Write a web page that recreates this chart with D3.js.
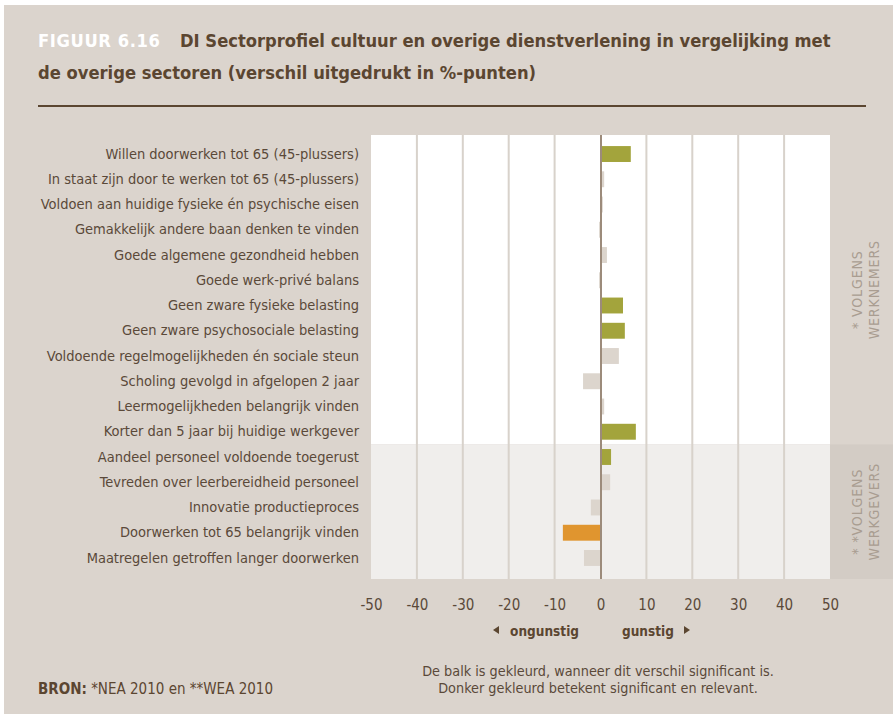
<!DOCTYPE html>
<html><head><meta charset="utf-8">
<script src="https://cdn.jsdelivr.net/npm/d3@7"></script>
<style>body{margin:0;background:#fff}svg{display:block}</style>
</head><body>
<svg id="chart" width="893" height="714"></svg>
<script>
const categories = [
  "Willen doorwerken tot 65 (45-plussers)",
  "In staat zijn door te werken tot 65 (45-plussers)",
  "Voldoen aan huidige fysieke én psychische eisen",
  "Gemakkelijk andere baan denken te vinden",
  "Goede algemene gezondheid hebben",
  "Goede werk-privé balans",
  "Geen zware fysieke belasting",
  "Geen zware psychosociale belasting",
  "Voldoende regelmogelijkheden én sociale steun",
  "Scholing gevolgd in afgelopen 2 jaar",
  "Leermogelijkheden belangrijk vinden",
  "Korter dan 5 jaar bij huidige werkgever",
  "Aandeel personeel voldoende toegerust",
  "Tevreden over leerbereidheid personeel",
  "Innovatie productieproces",
  "Doorwerken tot 65 belangrijk vinden",
  "Maatregelen getroffen langer doorwerken"
];
const values = [6.6, 0.8, 0.5, -0.3, 1.4, -0.3, 4.9, 5.3, 4.0, -3.8, 0.8, 7.7, 2.3, 2.1, -2.1, -8.2, -3.6];
const significant = [true, false, false, false, false, false, true, true, false, false, false, true, true, false, false, true, false];
const groups = ["werknemers","werknemers","werknemers","werknemers","werknemers","werknemers","werknemers","werknemers","werknemers","werknemers","werknemers","werknemers","werkgevers","werkgevers","werkgevers","werkgevers","werkgevers"];
const groupLabels = [["* VOLGENS", "WERKNEMERS"], ["* *VOLGENS", "WERKGEVERS"]];
const xTicks = [-50, -40, -30, -20, -10, 0, 10, 20, 30, 40, 50];

const C = {
  bg: "#dbd4cd", brown: "#5b4631", text: "#5a4939", white: "#ffffff",
  plotTop: "#ffffff", plotBottom: "#f0eeec", bandBottom: "#d3ccc5",
  grid: "#d8d2cb", zero: "#9c8b7b", green: "#a3a43c", orange: "#e0952f",
  light: "#dcd5cd", side: "#a99d91"
};
const FONT = "'Liberation Sans Narrow','Arial Narrow','DejaVu Sans Condensed','Liberation Sans',sans-serif";

const svg = d3.select("#chart").style("font-family", FONT);
svg.append("rect").attr("x", 4).attr("y", 5).attr("width", 889).attr("height", 709).attr("fill", C.bg);

// title
const t1 = svg.append("text").attr("y", 47).attr("font-size", 18.2).attr("font-weight", "bold");
t1.append("tspan").attr("x", 38).attr("fill", C.white).attr("letter-spacing", 0.6).text("FIGUUR 6.16");
t1.append("tspan").attr("x", 180).attr("fill", C.brown).text("DI Sectorprofiel cultuur en overige dienstverlening in vergelijking met");
svg.append("text").attr("x", 38).attr("y", 79).attr("font-size", 18.2).attr("font-weight", "bold")
  .attr("fill", C.brown).text("de overige sectoren (verschil uitgedrukt in %-punten)");
svg.append("rect").attr("x", 38).attr("y", 105).attr("width", 828).attr("height", 2).attr("fill", C.brown);

// scales
const plot = {left: 371, right: 830, top: 135, bottom: 579};
const x = d3.scaleLinear().domain([-50, 50]).range([plot.left, plot.right]);
const y = d3.scaleBand().domain(categories).range([141.4, 570.6]).paddingInner(0.37).paddingOuter(0.185);

const splitIdx = groups.indexOf("werkgevers");
const splitY = y(categories[splitIdx]) - y.step() * y.paddingInner() / 2;

// plot backgrounds
svg.append("rect").attr("x", plot.left).attr("y", plot.top).attr("width", plot.right - plot.left)
  .attr("height", splitY - plot.top).attr("fill", C.plotTop);
svg.append("rect").attr("x", plot.left).attr("y", splitY).attr("width", plot.right - plot.left)
  .attr("height", plot.bottom - splitY).attr("fill", C.plotBottom);
svg.append("rect").attr("x", plot.right).attr("y", splitY).attr("width", 893 - plot.right)
  .attr("height", plot.bottom - splitY).attr("fill", C.bandBottom);

// gridlines
svg.append("g").selectAll("rect").data(xTicks.filter(d => d !== 0 && Math.abs(d) !== 50)).join("rect")
  .attr("x", d => x(d) - 1).attr("y", plot.top).attr("width", 2).attr("height", plot.bottom - plot.top)
  .attr("fill", C.grid);

// bars
const data = categories.map((c, i) => ({c, v: values[i], s: significant[i]}));
svg.append("g").selectAll("rect").data(data).join("rect")
  .attr("x", d => x(Math.min(0, d.v)))
  .attr("y", d => y(d.c))
  .attr("width", d => Math.abs(x(d.v) - x(0)))
  .attr("height", y.bandwidth())
  .attr("fill", d => !d.s ? C.light : (d.v >= 0 ? C.green : C.orange));

// zero line
svg.append("rect").attr("x", x(0) - 0.5).attr("y", plot.top).attr("width", 2)
  .attr("height", plot.bottom - plot.top).attr("fill", C.zero);

// category labels
const yAxis = svg.append("g").attr("transform", `translate(${plot.left},0)`)
  .call(d3.axisLeft(y).tickSize(0).tickPadding(12));
yAxis.select(".domain").remove();
yAxis.selectAll("text").attr("fill", C.text).attr("font-size", 14.5).attr("font-family", FONT);

// x axis
const xAxis = svg.append("g").attr("transform", `translate(0,${plot.bottom + 20})`)
  .call(d3.axisBottom(x).tickValues(xTicks).tickFormat(d => String(d)).tickSize(0).tickPadding(0));
xAxis.select(".domain").remove();
xAxis.selectAll("text").attr("fill", C.text).attr("font-size", 15).attr("font-family", FONT);

// direction labels
svg.append("text").attr("x", 579).attr("y", 636).attr("text-anchor", "end").attr("font-size", 13.5)
  .attr("font-weight", "bold").attr("fill", C.brown).text("ongunstig");
svg.append("path").attr("d", "M493,630 l6,-4 v8 z").attr("fill", C.brown);
svg.append("text").attr("x", 622).attr("y", 636).attr("font-size", 13.5)
  .attr("font-weight", "bold").attr("fill", C.brown).text("gunstig");
svg.append("path").attr("d", "M690,630 l-6,-4 v8 z").attr("fill", C.brown);

// side labels
const sideCenters = [(plot.top + splitY) / 2, (splitY + plot.bottom) / 2];
groupLabels.forEach((lines, gi) => {
  lines.forEach((ln, li) => {
    svg.append("text")
      .attr("transform", `translate(${862 + li * 17},${sideCenters[gi]}) rotate(-90)`)
      .attr("text-anchor", "middle").attr("font-size", 14).attr("letter-spacing", 0.9)
      .attr("fill", C.side).text(ln);
  });
});

// footer
const src = svg.append("text").attr("x", 38).attr("y", 694).attr("font-size", 15).attr("fill", C.brown);
src.append("tspan").attr("font-weight", "bold").text("BRON:");
src.append("tspan").text(" *NEA 2010 en **WEA 2010");
svg.append("text").attr("x", 598).attr("y", 676).attr("text-anchor", "middle").attr("font-size", 14.3)
  .attr("fill", C.text).text("De balk is gekleurd, wanneer dit verschil significant is.");
svg.append("text").attr("x", 598).attr("y", 693).attr("text-anchor", "middle").attr("font-size", 14.3)
  .attr("fill", C.text).text("Donker gekleurd betekent significant en relevant.");
</script>
</body></html>
